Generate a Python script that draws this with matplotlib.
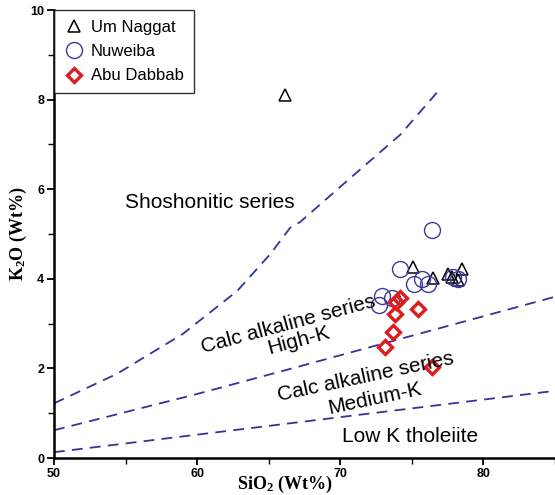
import matplotlib
matplotlib.use("Agg")
import matplotlib.pyplot as plt
import numpy as np

plt.rcParams['font.family'] = ['Liberation Sans', 'DejaVu Sans']
plt.rcParams['mathtext.default'] = 'regular'

# data
um_naggat_sio2 = [66.15, 75.05, 76.5, 77.5, 77.8, 78.2, 78.5]
um_naggat_k2o = [8.10, 4.27, 4.01, 4.10, 4.05, 3.97, 4.23]

nuweiba_sio2 = [76.4, 74.2, 75.15, 75.7, 76.1, 77.9, 78.2, 72.9, 73.6, 72.7]
nuweiba_k2o = [5.10, 4.22, 3.88, 3.99, 3.89, 4.04, 4.00, 3.62, 3.58, 3.42]

abu_dabbab_sio2 = [74.2, 73.9, 75.4, 73.8, 73.7, 73.1, 76.4]
abu_dabbab_k2o = [3.58, 3.48, 3.33, 3.22, 2.81, 2.48, 2.03]

# field boundaries
shosho_x = [50.0, 54.4, 59.0, 62.8, 65.1, 66.5, 67.2, 70.7, 74.2, 77.0]
shosho_y = [1.22, 1.88, 2.77, 3.73, 4.55, 5.14, 5.27, 6.25, 7.22, 8.25]
highk_x = [50.0, 60.0, 67.2, 85.0]
highk_y = [0.62, 1.43, 2.05, 3.60]
lowk_x = [50.0, 85.0]
lowk_y = [0.13, 1.50]

line_col = '#33339a'

fig = plt.figure(figsize=(5.55, 4.95), dpi=100)
ax = fig.add_axes([0.0973, 0.0747, 0.9027, 0.905])

for bx, by in [(shosho_x, shosho_y), (highk_x, highk_y), (lowk_x, lowk_y)]:
    ax.plot(bx, by, color=line_col, lw=1.3, linestyle=(0, (6, 4)))

ax.plot(um_naggat_sio2, um_naggat_k2o, '^', ms=9, mfc='none', mec='black',
        mew=1.1, label='Um Naggat')
ax.plot(nuweiba_sio2, nuweiba_k2o, 'o', ms=11.5, mfc='none', mec='#3a3a9c',
        mew=1.0, label='Nuweiba')
ax.plot(abu_dabbab_sio2, abu_dabbab_k2o, 'D', ms=7.5, mfc='none', mec='#e01b1b',
        mew=2.4, label='Abu Dabbab')

fs = 15
ax.text(60.9, 5.7, 'Shoshonitic series', fontsize=fs, ha='center', va='center')
ax.text(66.4, 2.98, 'Calc alkaline series', fontsize=fs, ha='center',
        va='center', rotation=15)
ax.text(67.1, 2.62, 'High-K', fontsize=fs, ha='center', va='center', rotation=15)
ax.text(71.8, 1.80, 'Calc alkaline series', fontsize=fs, ha='center',
        va='center', rotation=12)
ax.text(72.4, 1.32, 'Medium-K', fontsize=fs, ha='center', va='center',
        rotation=12)
ax.text(74.9, 0.47, 'Low K tholeiite', fontsize=fs, ha='center', va='center')

ax.set_xlim(50, 85)
ax.set_ylim(0, 10)
ax.set_xticks([50, 60, 70, 80])
ax.set_xticks([55, 65, 75, 85], minor=True)
ax.set_yticks([0, 2, 4, 6, 8, 10])
ax.set_yticks([1, 3, 5, 7, 9], minor=True)
ax.tick_params(which='major', direction='out', length=5, width=1.3,
               labelsize=9, pad=2)
ax.tick_params(which='minor', direction='out', length=4, width=1.0)
for lab in ax.get_xticklabels() + ax.get_yticklabels():
    lab.set_fontweight('bold')

ax.spines['top'].set_visible(False)
ax.spines['right'].set_visible(False)
ax.spines['left'].set_linewidth(1.8)
ax.spines['bottom'].set_linewidth(1.8)

ax.set_xlabel('SiO$_2$ (Wt%)', fontsize=13, fontweight='bold',
              family='Liberation Serif')
ax.set_ylabel('K$_2$O (Wt%)', fontsize=13, fontweight='bold',
              family='Liberation Serif')
ax.xaxis.set_label_coords(0.46, -0.036)
ax.yaxis.set_label_coords(-0.05, 0.5)

leg = ax.legend(loc='upper left', bbox_to_anchor=(0.0, 1.0), fontsize=12,
                frameon=True, fancybox=False, edgecolor='black',
                borderaxespad=0, handletextpad=0.4, labelspacing=0.55,
                borderpad=0.6, handlelength=1.2)
leg.get_frame().set_linewidth(1.0)

fig.savefig('out.png', dpi=100)
